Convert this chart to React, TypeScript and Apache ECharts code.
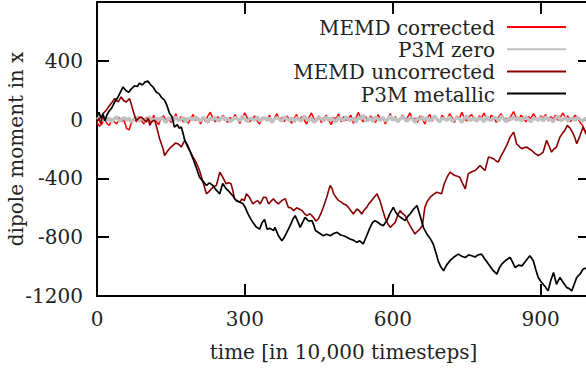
import React, { useEffect, useRef } from "react";
import * as echarts from "echarts";

const seriesNames = ["MEMD corrected", "P3M zero", "MEMD uncorrected", "P3M metallic"];
const seriesColors = ["#ff0000", "#c0c0c0", "#8b0000", "#000000"];
const seriesWidths = [1.5, 3.4, 1.6, 1.7];

const xAxisTitle = "time [in 10,000 timesteps]";
const yAxisTitle = "dipole moment in x";
const xMin = 0;
const xMax = 1000;
const xStep = 300;
const yMin = -1200;
const yMax = 800;
const yStep = 400;

// sampled every 5 time units
const noiseStep = 5;
const memdCorrected = [
  -20, -45, -30, 10, -25, -40, 5, -15, -30, 15,
  -10, -5, -60, -70, -20, 10, -15, 20, -5, -30,
  15, 5, -20, 30, -10, -35, 10, 25, -5, 15,
  -20, 5, 40, -10, 20, -15, 10, -25, 5, 35,
  -5, 15, -30, 10, -10, 25, 50, 5, -15, 20,
  -10, 30, 10, -20, 15, -5, 35, 0, -25, 20,
  45, 10, -15, 5, 25, -10, -30, 15, 5, -5,
  30, -20, 10, 40, -5, 15, -15, 25, 5, -25,
  10, 35, -10, 20, 0, -30, 15, 45, 5, -10,
  25, -20, 10, 30, -5, -35, 15, 5, 40, -15,
  20, -5, 10, 30, -25, 5, 50, 10, -15, 20,
  -10, 25, 5, -20, 35, 0, 15, -30, 10, 40,
  -5, 20, -15, 5, 30, -10, 15, 45, -5, 10,
  -20, 25, 5, -30, 15, 35, -10, 20, 5, -15,
  30, 10, -5, 40, 15, -20, 25, 5, 50, 10,
  -10, 20, 35, 0, -15, 25, 10, 45, 5, -5,
  30, 15, -20, 20, 40, 5, 10, -10, 25, 55,
  15, 0, 30, 10, -15, 20, 5, 40, 15, -5,
  25, 10, 35, -10, 20, 5, 30, -5, 15, 45,
  10, 25, -15, 5, 30, 10, -20, -40, -80, -60,
  -30,
];

const p3mZero = [
  0, 15, -10, 20, -5, 10, -15, 5, 20, -10,
  0, 15, -5, 10, -20, 5, 15, -10, 10, 0,
  -15, 20, 5, -10, 10, -5, 15, 0, -20, 10,
  5, -10, 20, -5, 0, 15, -15, 5, 10, -5,
  20, 0, -10, 15, 5, -20, 10, 0, 15, -10,
  5, 20, -5, 10, -15, 0, 15, 5, -10, 25,
  0, -15, 10, 5, -5, 20, -10, 0, 15, -5,
  10, -20, 5, 15, 0, -10, 20, 5, -5, 10,
  -15, 15, 0, -10, 25, 5, -5, 10, -20, 0,
  15, 5, -10, 20, -5, 10, 0, -15, 15, 5,
  -10, 20, 0, -5, 10, -20, 15, 5, 30, -10,
  0, 10, -15, 20, 5, -5, 15, -10, 0, 25,
  -5, 10, -15, 5, 20, 0, -10, 15, 5, -20,
  10, 0, 20, -5, 15, -10, 5, 25, 0, -15,
  10, 5, -5, 20, -10, 0, 15, 5, -20, 10,
  25, -5, 0, 15, -10, 10, 5, -15, 20, 0,
  -5, 15, 10, -10, 25, 5, -15, 10, 0, 20,
  -5, 15, -10, 5, 20, 0, -15, 10, 5, -5,
  15, -10, 20, 0, 5, -15, 10, 25, -5, 0,
  15, -10, 10, 5, -5, 15, 0, -10, 5, 10,
  0,
];

// [time, dipole]
const memdUncorrected: [number, number][] = [
  [0, -20], [4, 10], [8, -30], [12, 41], [18, 60], [22, 80], [26, 98], [31, 120], [36, 143], [43, 120],
  [49, 154], [54, 130], [59, 120], [66, 143], [70, 100], [73, 63], [77, 20], [80, -5], [85, 10], [90, 18],
  [95, 0], [100, -16], [104, 10], [107, -39], [112, -10], [117, -5], [120, -39], [124, -90], [127, -130], [131, -170],
  [134, -198], [137, -244], [141, -225], [144, -210], [149, -190], [154, -175], [159, -160], [164, -164], [168, -175], [171, -187],
  [175, -160], [178, -141], [183, -180], [188, -210], [194, -250], [201, -289], [208, -346], [215, -426], [222, -505], [227, -490],
  [232, -471], [237, -455], [242, -448], [246, -400], [249, -357], [255, -392], [262, -437], [267, -430], [272, -437], [276, -490],
  [279, -539], [284, -550], [289, -562], [294, -540], [299, -551], [303, -505], [309, -528], [316, -574], [321, -560], [326, -551],
  [331, -574], [338, -528], [343, -530], [348, -574], [353, -555], [358, -539], [363, -560], [368, -574], [375, -550], [382, -539],
  [388, -597], [393, -600], [399, -619], [405, -600], [411, -610], [416, -619], [421, -640], [426, -653], [432, -640], [439, -665],
  [444, -690], [449, -676], [454, -640], [459, -597], [466, -528], [470, -480], [473, -448], [477, -470], [480, -505], [485, -530],
  [490, -551], [495, -560], [500, -574], [505, -580], [510, -597], [515, -620], [520, -642], [527, -608], [532, -620], [537, -642],
  [542, -615], [547, -597], [552, -570], [557, -551], [562, -530], [568, -505], [574, -551], [579, -610], [584, -665], [590, -710],
  [595, -733], [600, -715], [605, -699], [610, -650], [615, -619], [620, -640], [625, -653], [630, -690], [635, -721], [640, -750],
  [645, -778], [650, -760], [655, -744], [660, -720], [665, -597], [670, -555], [676, -528], [682, -510], [689, -494], [694, -500],
  [699, -505], [704, -440], [710, -392], [716, -357], [721, -370], [726, -380], [731, -385], [736, -392], [741, -430], [747, -471],
  [753, -369], [760, -355], [767, -346], [772, -330], [777, -312], [782, -330], [787, -346], [794, -255], [799, -260], [804, -266],
  [809, -280], [814, -289], [819, -250], [824, -221], [831, -175], [838, -119], [845, -85], [848, -120], [851, -164], [857, -185],
  [862, -198], [867, -190], [872, -187], [877, -200], [882, -210], [888, -230], [895, -244], [900, -235], [905, -221], [912, -141],
  [917, -180], [922, -221], [927, -200], [932, -187], [939, -119], [944, -95], [949, -73], [954, -39], [960, -60], [966, -96],
  [970, -130], [973, -164], [980, -107], [986, -50], [992, -100], [1000, -80],
];

const p3mMetallic: [number, number][] = [
  [0, 20], [4, 50], [8, 10], [12, 40], [16, -10], [20, 30], [25, 60], [30, 80], [36, 120], [42, 150],
  [48, 190], [53, 222], [58, 200], [64, 185], [70, 210], [76, 230], [82, 225], [86, 248], [92, 235], [97, 255],
  [103, 263], [108, 240], [114, 220], [120, 188], [126, 175], [131, 150], [137, 132], [142, 95], [147, 43], [152, 20],
  [157, -50], [163, -35], [167, -60], [171, -50], [175, -100], [178, -141], [183, -170], [188, -210], [194, -260], [201, -323],
  [208, -392], [215, -420], [222, -448], [228, -430], [235, -448], [242, -480], [249, -505], [255, -435], [262, -470], [269, -494],
  [276, -520], [282, -551], [289, -560], [296, -572], [301, -600], [306, -640], [311, -670], [316, -699], [323, -730], [330, -745],
  [335, -700], [340, -680], [345, -745], [351, -740], [358, -755], [361, -733], [368, -790], [375, -824], [380, -800], [385, -767],
  [392, -720], [397, -680], [402, -653], [407, -690], [412, -733], [417, -700], [422, -665], [429, -690], [436, -687], [440, -720],
  [443, -755], [450, -770], [459, -790], [466, -780], [473, -790], [480, -775], [487, -767], [494, -785], [500, -790], [507, -800],
  [513, -812], [520, -820], [527, -835], [533, -825], [540, -846], [547, -790], [554, -733], [559, -700], [564, -687], [570, -700],
  [576, -715], [581, -721], [588, -687], [594, -640], [601, -597], [606, -630], [611, -653], [618, -670], [625, -687], [630, -660],
  [635, -642], [642, -610], [649, -585], [655, -650], [662, -733], [669, -778], [676, -810], [682, -846], [687, -900], [692, -960],
  [697, -1000], [703, -1029], [709, -990], [716, -960], [724, -935], [733, -915], [740, -930], [747, -938], [754, -920], [760, -926],
  [767, -935], [773, -920], [780, -915], [787, -950], [794, -983], [802, -1020], [811, -1051], [816, -1010], [821, -983], [830, -955],
  [838, -938], [843, -970], [848, -1006], [855, -990], [862, -995], [870, -960], [878, -926], [885, -960], [890, -1020], [895, -1074],
  [900, -1100], [905, -1120], [910, -1140], [915, -1165], [920, -1100], [926, -1040], [932, -1120], [939, -1074], [946, -1110], [953, -1143],
  [958, -1150], [963, -1165], [968, -1120], [973, -1074], [980, -1050], [986, -1017], [992, -1010], [1000, -1000],
];

const FONT = "DejaVu Serif";
const FS = 20;

const GRID = { left: 97, top: 2, width: 493, height: 294 };
const LEGEND_TEXT_RIGHT = 495;
const LEGEND_LINE_X1 = 507;
const LEGEND_LINE_X2 = 566;
const LEGEND_ROW0 = 27;
const LEGEND_ROW_GAP = 22.2;

export default function App() {
  const ref = useRef<HTMLDivElement>(null);

  useEffect(() => {
    if (!ref.current) return;
    const chart = echarts.init(ref.current, undefined, { renderer: "svg" });

    const seriesData = [
      memdCorrected.map((v, i) => [i * noiseStep, v]),
      p3mZero.map((v, i) => [i * noiseStep, v]),
      memdUncorrected,
      p3mMetallic,
    ];

    const legendGraphics: any[] = [];
    seriesNames.forEach((name, i) => {
      const y = LEGEND_ROW0 + i * LEGEND_ROW_GAP;
      legendGraphics.push({
        type: "text",
        x: LEGEND_TEXT_RIGHT,
        y: y + 1,
        style: {
          text: name,
          fill: "#222",
          font: `${FS}px "${FONT}"`,
          textAlign: "right",
          textVerticalAlign: "middle",
        },
      });
      legendGraphics.push({
        type: "line",
        shape: { x1: LEGEND_LINE_X1, y1: y, x2: LEGEND_LINE_X2, y2: y },
        style: { stroke: seriesColors[i], lineWidth: 2 },
      });
    });

    const axisCommon = {
      axisLine: { show: true, onZero: false, lineStyle: { color: "#000", width: 2 } },
      axisTick: { show: true, inside: true, length: 12, lineStyle: { color: "#000", width: 2 } },
      splitLine: { show: false },
    };

    chart.setOption({
      animation: false,
      backgroundColor: "#fff",
      grid: { ...GRID, containLabel: false, outerBoundsMode: "none" },
      xAxis: [
        {
          type: "value",
          min: xMin,
          max: xMax,
          interval: xStep,
          position: "bottom",
          ...axisCommon,
          axisLabel: {
            show: true,
            margin: 13,
            color: "#222",
            fontFamily: FONT,
            fontSize: FS,
            showMaxLabel: false,
            formatter: (v: number) => (v % xStep === 0 ? String(v) : ""),
          },
          name: xAxisTitle,
          nameLocation: "middle",
          nameGap: 46,
          nameMoveOverlap: false,
          nameTextStyle: { color: "#222", fontFamily: FONT, fontSize: FS },
        },
        {
          type: "value",
          min: xMin,
          max: xMax,
          interval: xStep,
          position: "top",
          ...axisCommon,
          axisLabel: { show: false },
        },
      ],
      yAxis: [
        {
          type: "value",
          min: yMin,
          max: yMax,
          interval: yStep,
          position: "left",
          ...axisCommon,
          axisLabel: {
            show: true,
            margin: 14,
            color: "#222",
            fontFamily: FONT,
            fontSize: FS,
            formatter: (v: number) => (v === yMax ? "" : String(v)),
          },
          name: yAxisTitle,
          nameLocation: "middle",
          nameGap: 71,
          nameMoveOverlap: false,
          nameTextStyle: { color: "#222", fontFamily: FONT, fontSize: FS },
        },
        {
          type: "value",
          min: yMin,
          max: yMax,
          interval: yStep,
          position: "right",
          ...axisCommon,
          axisLabel: { show: false },
        },
      ],
      series: seriesNames.map((name, i) => ({
        name,
        type: "line",
        xAxisIndex: 0,
        yAxisIndex: 0,
        data: seriesData[i],
        showSymbol: false,
        symbol: "none",
        clip: true,
        lineStyle: { color: seriesColors[i], width: seriesWidths[i] },
        itemStyle: { color: seriesColors[i] },
        z: 2 + i,
      })),
      graphic: legendGraphics,
    });

    return () => chart.dispose();
  }, []);

  return (
    <div
      ref={ref}
      style={{ position: "fixed", left: 0, top: 0, width: 590, height: 372, background: "#fff" }}
    />
  );
}
